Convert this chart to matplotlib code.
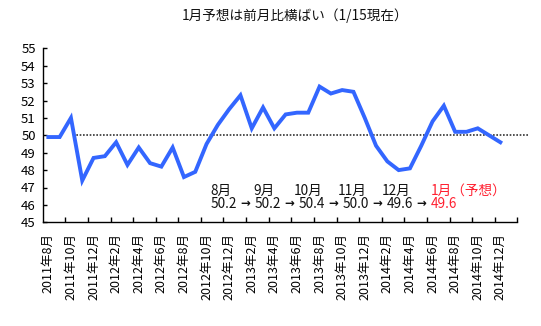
import matplotlib
matplotlib.use("Agg")
import matplotlib.pyplot as plt
from matplotlib.ticker import FixedLocator, NullFormatter, FixedFormatter

plt.rcParams['font.family'] = ['Noto Sans CJK JP', 'DejaVu Sans']

title = "1月予想は前月比横ばい（1/15現在）"

# monthly values, 2011年8月 .. 2014年12月
values = [49.9, 49.9, 51.0, 47.4, 48.7, 48.8, 49.6, 48.3, 49.3, 48.4,
          48.2, 49.3, 47.6, 47.9, 49.5, 50.6, 51.5, 52.3, 50.4, 51.6,
          50.4, 51.2, 51.3, 51.3, 52.8, 52.4, 52.6, 52.5, 51.0, 49.4,
          48.5, 48.0, 48.1, 49.4, 50.8, 51.7, 50.2, 50.2, 50.4, 50.0,
          49.6]
n_categories = 42  # 2011年8月 .. 2015年1月

tick_labels = ["2011年8月", "2011年10月", "2011年12月",
               "2012年2月", "2012年4月", "2012年6月", "2012年8月", "2012年10月", "2012年12月",
               "2013年2月", "2013年4月", "2013年6月", "2013年8月", "2013年10月", "2013年12月",
               "2014年2月", "2014年4月", "2014年6月", "2014年8月", "2014年10月", "2014年12月"]

ann_months = ["8月", "9月", "10月", "11月", "12月"]
ann_values = ["50.2", "50.2", "50.4", "50.0", "49.6"]
forecast_month = "1月（予想）"
forecast_value = "49.6"
ref_level = 50

W, H = 541, 326
fig = plt.figure(figsize=(W / 100, H / 100), dpi=100)
ax = fig.add_axes([42.7 / W, 1 - 222.3 / H, (517.3 - 42.7) / W, (222.3 - 48.3) / H])

x = list(range(len(values)))
ax.plot(x, values, color='#3366FF', lw=2.8, solid_joinstyle='miter', zorder=3)
ax.axhline(ref_level, xmin=0.064, xmax=1.025, color='#333333', lw=1.2,
           linestyle=(0, (1, 1)), clip_on=False, zorder=2)

ax.set_xlim(-0.5, n_categories - 0.5)
ax.set_ylim(45, 55)
ax.set_yticks(range(45, 56))
ax.tick_params(axis='y', direction='in', length=3, width=1, labelsize=9.5, pad=5)

ax.xaxis.set_major_locator(FixedLocator([i + 1.5 for i in range(0, n_categories, 2)]))
ax.xaxis.set_major_formatter(NullFormatter())
ax.xaxis.set_minor_locator(FixedLocator(list(range(0, n_categories - 1, 2))))
ax.xaxis.set_minor_formatter(FixedFormatter(tick_labels))
ax.tick_params(axis='x', which='major', direction='in', length=3.5, width=1)
ax.tick_params(axis='x', which='minor', length=0, labelsize=9, pad=8, labelrotation=90)

for s in ['top', 'right']:
    ax.spines[s].set_visible(False)
for s in ['left', 'bottom']:
    ax.spines[s].set_linewidth(1.0)

def fx(px):
    return px / W

def fy(py):
    return 1 - py / H

fig.text(fx(295), fy(16), title, ha='center', va='center', fontsize=9.8, color='#111111')

# annotation row
step = 44
x0 = 223.5
for i, (m, v) in enumerate(zip(ann_months, ann_values)):
    cx = x0 + step * i
    fig.text(fx(cx - 3), fy(191), m, ha='center', va='center', fontsize=9.8, color='#111111')
    fig.text(fx(cx), fy(203.5), v, ha='center', va='center', fontsize=9.8, color='#111111')
    fig.text(fx(cx + step / 2), fy(203.5), "→", ha='center', va='center', fontsize=8.5,
             fontweight='bold', family=['DejaVu Sans'], color='#111111')
cx = x0 + step * len(ann_values)
fig.text(fx(cx - 13), fy(191), forecast_month, ha='left', va='center', fontsize=9.8, color='#FF2030')
fig.text(fx(cx), fy(203.5), forecast_value, ha='center', va='center', fontsize=9.8, color='#FF2030')

fig.savefig("out.png", dpi=100)
